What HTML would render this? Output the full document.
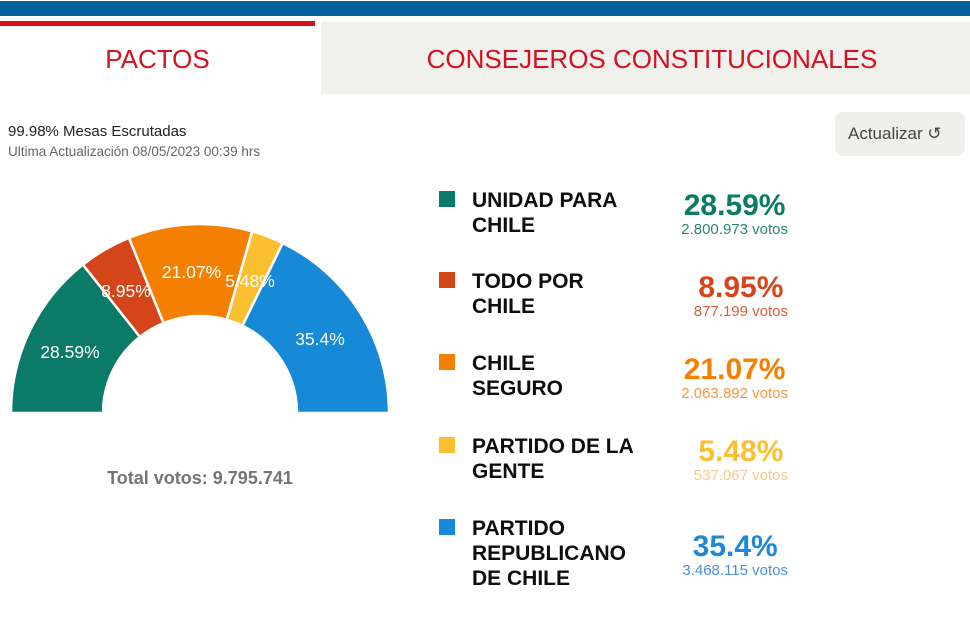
<!DOCTYPE html>
<html>
<head>
<meta charset="utf-8">
<style>
  html,body{margin:0;padding:0;background:#fff;}
  body{width:970px;height:625px;position:relative;overflow:hidden;font-family:"Liberation Sans",Arial,sans-serif;}
  .abs{position:absolute;white-space:nowrap;}
  .topbar{left:0;top:1px;width:970px;height:15px;background:#03609f;}
  .redline{left:0;top:21px;width:315px;height:5px;background:#d7101f;}
  .tab2{left:321px;top:22px;width:649px;height:72px;background:#f0f0ed;}
  .tabtxt{font-size:26px;line-height:26px;color:#d7101f;top:46px;}
  .sq{width:16px;height:16px;left:439px;}
  .ttl{left:472px;font-weight:bold;font-size:21px;line-height:25px;color:#0d0d0d;}
  .pc{right:182px;text-align:center;}
  .pc .p{font-weight:bold;font-size:30px;line-height:30px;}
  .pc .v{font-size:15px;line-height:18px;}
</style>
</head>
<body>
<div class="abs topbar"></div>
<div class="abs redline"></div>
<div class="abs tab2"></div>
<div class="abs tabtxt" style="left:0;width:315px;text-align:center;">PACTOS</div>
<div class="abs tabtxt" style="left:402px;width:500px;text-align:center;">CONSEJEROS CONSTITUCIONALES</div>

<div class="abs" style="left:8px;top:123.5px;font-size:15px;line-height:15px;color:#222;">99.98% Mesas Escrutadas</div>
<div class="abs" style="left:8px;top:145px;font-size:13.5px;line-height:14px;color:#666;">Ultima Actualización 08/05/2023 00:39 hrs</div>

<div class="abs" style="left:835px;top:112px;width:130px;height:44px;background:#efefec;border-radius:8px;"></div>
<div class="abs" style="left:848px;top:124px;font-size:17px;line-height:20px;color:#444;">Actualizar <span style="font-family:'DejaVu Sans',sans-serif;font-size:17px;">↺</span></div>

<svg class="abs" style="left:0;top:0;" width="420" height="625" viewBox="0 0 420 625">
  <g stroke="#fff" stroke-width="2.5" stroke-linejoin="round">
    <path d="M11,413 A189,189 0 0 1 82.93,264.62 L139.92,336.85 A97,97 0 0 0 103,413 Z" fill="#0b7a69"/>
    <path d="M82.93,264.62 A189,189 0 0 1 128.97,237.85 L163.55,323.11 A97,97 0 0 0 139.92,336.85 Z" fill="#d4451a"/>
    <path d="M128.97,237.85 A189,189 0 0 1 252.22,231.35 L226.80,319.77 A97,97 0 0 0 163.55,323.11 Z" fill="#f57f00"/>
    <path d="M252.22,231.35 A189,189 0 0 1 282.73,243.07 L242.46,325.79 A97,97 0 0 0 226.80,319.77 Z" fill="#fbbf2f"/>
    <path d="M282.73,243.07 A189,189 0 0 1 389,413 L297,413 A97,97 0 0 0 242.46,325.79 Z" fill="#168ad6"/>
  </g>
  <g fill="#fff" font-family="Liberation Sans, Arial, sans-serif" font-size="17.5" text-anchor="middle">
    <text x="70" y="358">28.59%</text>
    <text x="126" y="297">8.95%</text>
    <text x="191.5" y="278">21.07%</text>
    <text x="250" y="287">5.48%</text>
    <text x="320" y="345">35.4%</text>
  </g>
  <text x="200" y="484" fill="#757575" font-family="Liberation Sans, Arial, sans-serif" font-size="18" font-weight="bold" text-anchor="middle">Total votos: 9.795.741</text>
</svg>

<!-- Row 1 -->
<div class="abs sq" style="top:191px;background:#0b7a69;"></div>
<div class="abs ttl" style="top:188px;">UNIDAD PARA<br>CHILE</div>
<div class="abs pc" style="top:190.6px;"><div class="p" style="color:#0b7a69;">28.59%</div><div class="v" style="color:#2a8576;">2.800.973 votos</div></div>

<!-- Row 2 -->
<div class="abs sq" style="top:272px;background:#d4451a;"></div>
<div class="abs ttl" style="top:269px;">TODO POR<br>CHILE</div>
<div class="abs pc" style="top:272.6px;"><div class="p" style="color:#d4451a;">8.95%</div><div class="v" style="color:#d8603f;">877.199 votos</div></div>

<!-- Row 3 -->
<div class="abs sq" style="top:354px;background:#f57f00;"></div>
<div class="abs ttl" style="top:351px;">CHILE<br>SEGURO</div>
<div class="abs pc" style="top:354.6px;"><div class="p" style="color:#f57f00;">21.07%</div><div class="v" style="color:#f5983c;">2.063.892 votos</div></div>

<!-- Row 4 -->
<div class="abs sq" style="top:437px;background:#fbbf2f;"></div>
<div class="abs ttl" style="top:434px;">PARTIDO DE LA<br>GENTE</div>
<div class="abs pc" style="top:436.6px;"><div class="p" style="color:#fbbf2f;">5.48%</div><div class="v" style="color:#f7c98a;">537.067 votos</div></div>

<!-- Row 5 -->
<div class="abs sq" style="top:519px;background:#168ad6;"></div>
<div class="abs ttl" style="top:516px;">PARTIDO<br>REPUBLICANO<br>DE CHILE</div>
<div class="abs pc" style="top:531.6px;"><div class="p" style="color:#1e88d8;">35.4%</div><div class="v" style="color:#4a8fd8;">3.468.115 votos</div></div>

</body>
</html>
